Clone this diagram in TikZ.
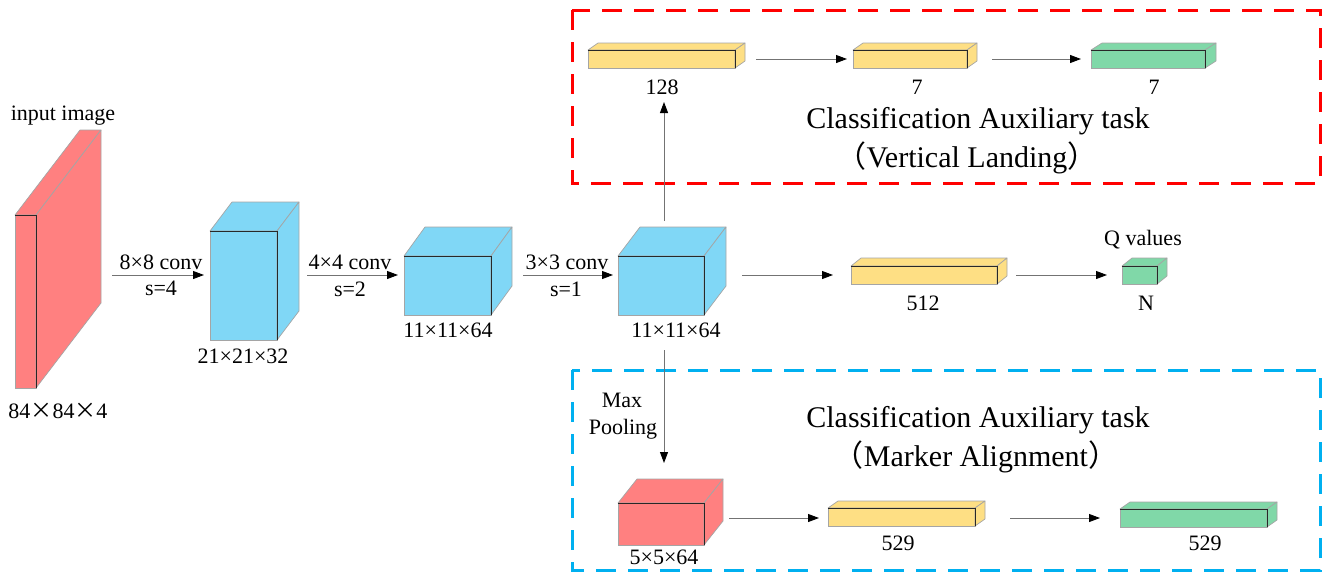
\documentclass[tikz,border=0pt]{standalone}
\usepackage{fontspec}
\setmainfont{Liberation Serif}
\newfontfamily\cjk{Noto Sans CJK SC}
\usetikzlibrary{arrows.meta,calc}
\definecolor{pinkc}{RGB}{255,128,128}
\definecolor{bluec}{RGB}{128,215,246}
\definecolor{yellowc}{RGB}{254,223,132}
\definecolor{greenc}{RGB}{128,216,168}
\definecolor{edgegray}{RGB}{165,165,165}
\definecolor{darkedge}{RGB}{40,40,40}
\definecolor{boxred}{RGB}{255,0,0}
\definecolor{boxblue}{RGB}{0,176,240}
\newcommand\cuboid[8]{%
  \node[face, fill=#8, minimum width=#4pt, minimum height=#5pt, anchor=north west] (#1) at (#2,#3) {};
  \filldraw[fill=#8, draw=edgegray, line width=0.7pt, line join=round]
    (#1.north west) -- ($(#1.north west)+(#6,-#7)$) -- ($(#1.north east)+(#6,-#7)$) -- (#1.north east) -- cycle;
  \filldraw[fill=#8, draw=edgegray, line width=0.7pt, line join=round]
    (#1.north east) -- ($(#1.north east)+(#6,-#7)$) -- ($(#1.south east)+(#6,-#7)$) -- (#1.south east) -- cycle;
  \draw[darkedge, line width=0.8pt] (#1.north west) -- (#1.north east) -- (#1.south east);
}
\newcommand\cj[1]{{\cjk #1}}
\begin{document}
\begin{tikzpicture}[x=1pt,y=-1pt,
  face/.style={draw=edgegray, line width=0.7pt, inner sep=0pt, outer sep=0pt},
  lab/.style={font=\fontsize{22}{24}\selectfont, inner sep=0pt, anchor=base},
  ttl/.style={font=\fontsize{30}{32}\selectfont, inner sep=0pt, anchor=base},
  arr/.style={draw=black!55, line width=0.9pt, -{Triangle[length=11pt,width=8pt,color=black]}},
  dbox/.style={line width=3pt, dash pattern=on 20pt off 12pt}]
\useasboundingbox (0,0) rectangle (1325,573);

% dashed task boxes
\draw[dbox, boxred] (572,10) rectangle (1320,183);
\draw[dbox, boxblue] (572,370) rectangle (1320,570);

% cuboids
\cuboid{slab}{15}{215}{21}{173}{65}{85}{pinkc}
\cuboid{cA}{210}{231}{67}{109}{22}{29}{bluec}
\cuboid{cB}{404}{256}{87}{59}{21}{29}{bluec}
\cuboid{cC}{618}{256}{86}{59}{22}{29}{bluec}
\cuboid{fc}{851}{266}{146}{18}{10}{8}{yellowc}
\cuboid{qv}{1122}{266}{35}{18}{10}{8}{greenc}
\cuboid{fa}{588}{50}{147}{18}{10}{7}{yellowc}
\cuboid{fb}{853}{50}{114}{18}{10}{7}{yellowc}
\cuboid{ga}{1091}{50}{114}{18}{11}{7}{greenc}
\cuboid{pool}{618}{503}{86}{42}{19}{24}{pinkc}
\cuboid{fd}{828}{508}{147}{18}{10}{7}{yellowc}
\cuboid{gb}{1120}{509}{147}{18}{10}{7}{greenc}

% labels
\node[lab] (tin) at (63,120) {input image};
\node[lab] (tsz0) at (58,418) {84\cj{×}84\cj{×}4};
\node[lab] (tk1) at (161,269) {8×8 conv};
\node[lab] (ts1) at (161,295) {s=4};
\node[lab] (tsz1) at (243,363) {21×21×32};
\node[lab] (tk2) at (350,269) {4×4 conv};
\node[lab] (ts2) at (350,296) {s=2};
\node[lab] (tsz2) at (448,337) {11×11×64};
\node[lab] (tk3) at (567,269) {3×3 conv};
\node[lab] (ts3) at (566,296) {s=1};
\node[lab] (tsz3) at (676,337) {11×11×64};
\node[lab] (t512) at (923,310) {512};
\node[lab] (tN) at (1146,310) {N};
\node[lab] (tQ) at (1143,245) {Q values};
\node[lab] (t128) at (662,94) {128};
\node[lab] (t7a) at (917,94) {7};
\node[lab] (t7b) at (1154,94) {7};
\node[lab] (tmax) at (622,407) {Max};
\node[lab] (tpool) at (623,434) {Pooling};
\node[lab] (t564) at (664,564) {5×5×64};
\node[lab] (t529a) at (898,550) {529};
\node[lab] (t529b) at (1205,550) {529};

\node[ttl] (ttop1) at (978,128) {Classification Auxiliary task};
\node[ttl] (ttop2) at (967,167) {\cj{（}Vertical Landing\cj{）}};
\node[ttl] (tbot1) at (978,427) {Classification Auxiliary task};
\node[ttl] (tbot2) at (976,466) {\cj{（}Marker Alignment\cj{）}};

% connector ends
\coordinate (a1s) at (112,275); \coordinate (a1e) at (204,275);
\coordinate (a2s) at (307,275); \coordinate (a2e) at (398,275);
\coordinate (a3s) at (523,275); \coordinate (a3e) at (613,275);
\coordinate (a4s) at (742,275); \coordinate (a4e) at (833,275);
\coordinate (a5s) at (1016,275); \coordinate (a5e) at (1107,275);
\coordinate (ups) at (664,221); \coordinate (upe) at (664,102);
\coordinate (t1s) at (756,59); \coordinate (t1e) at (847,59);
\coordinate (t2s) at (992,59); \coordinate (t2e) at (1081,59);
\coordinate (dns) at (664,350); \coordinate (dne) at (664,463);
\coordinate (b1s) at (729,518); \coordinate (b1e) at (819,518);
\coordinate (b2s) at (1010,518); \coordinate (b2e) at (1100,518);

\draw[arr] (a1s) -- (a1e);
\draw[arr] (a2s) -- (a2e);
\draw[arr] (a3s) -- (a3e);
\draw[arr] (a4s) -- (a4e);
\draw[arr] (a5s) -- (a5e);
\draw[arr] (ups) -- (upe);
\draw[arr] (t1s) -- (t1e);
\draw[arr] (t2s) -- (t2e);
\draw[arr] (dns) -- (dne);
\draw[arr] (b1s) -- (b1e);
\draw[arr] (b2s) -- (b2e);
\end{tikzpicture}
\end{document}
